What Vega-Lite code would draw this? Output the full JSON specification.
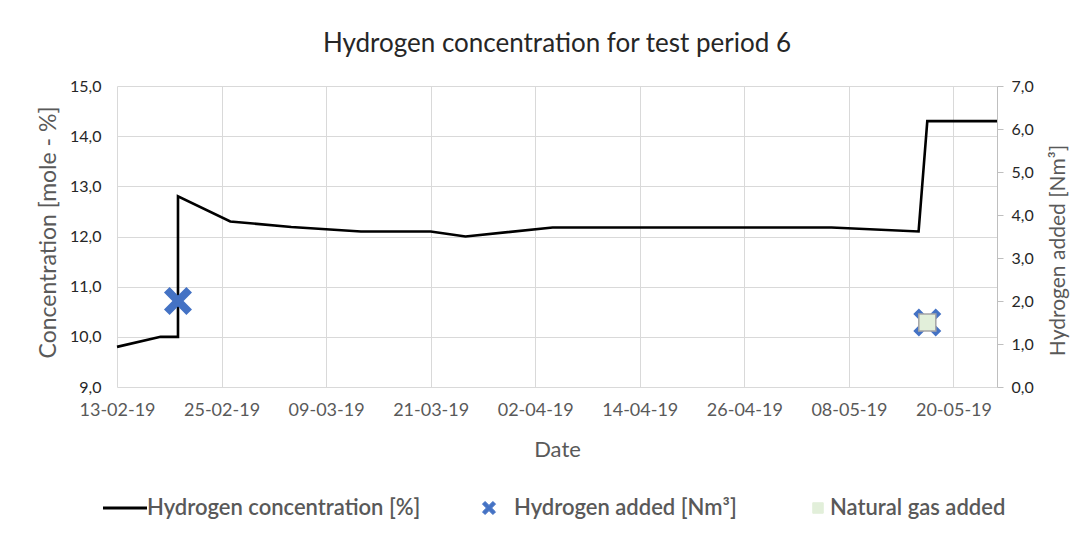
{
  "$schema": "https://vega.github.io/schema/vega-lite/v6.json",
  "width": 880,
  "height": 301,
  "autosize": {"type": "none"},
  "padding": {"left": 117, "top": 86, "right": 87, "bottom": 149},
  "background": "white",
  "config": {
    "locale": {"number": {"decimal": ",", "thousands": ".", "grouping": [3], "currency": ["", " €"]}},
    "view": {"stroke": null},
    "font": "Lato"
  },
  "title": {
    "text": "Hydrogen concentration for test period 6",
    "font": "Lato",
    "fontSize": 26,
    "fontWeight": "normal",
    "color": "#262626",
    "anchor": "middle",
    "offset": 21
  },
  "datasets": {
    "conc": [
      {"seq": 1, "date": "2019-02-13T00:00:00", "value": 9.8, "series": "Hydrogen concentration [%]"},
      {"seq": 2, "date": "2019-02-18T00:00:00", "value": 10.0, "series": "Hydrogen concentration [%]"},
      {"seq": 3, "date": "2019-02-20T00:00:00", "value": 10.0, "series": "Hydrogen concentration [%]"},
      {"seq": 4, "date": "2019-02-20T00:00:00", "value": 12.8, "series": "Hydrogen concentration [%]"},
      {"seq": 5, "date": "2019-02-26T00:00:00", "value": 12.3, "series": "Hydrogen concentration [%]"},
      {"seq": 6, "date": "2019-03-05T00:00:00", "value": 12.19, "series": "Hydrogen concentration [%]"},
      {"seq": 7, "date": "2019-03-13T00:00:00", "value": 12.1, "series": "Hydrogen concentration [%]"},
      {"seq": 8, "date": "2019-03-21T00:00:00", "value": 12.1, "series": "Hydrogen concentration [%]"},
      {"seq": 9, "date": "2019-03-25T00:00:00", "value": 12.0, "series": "Hydrogen concentration [%]"},
      {"seq": 10, "date": "2019-04-04T00:00:00", "value": 12.18, "series": "Hydrogen concentration [%]"},
      {"seq": 11, "date": "2019-05-06T00:00:00", "value": 12.18, "series": "Hydrogen concentration [%]"},
      {"seq": 12, "date": "2019-05-16T00:00:00", "value": 12.1, "series": "Hydrogen concentration [%]"},
      {"seq": 13, "date": "2019-05-17T00:00:00", "value": 14.3, "series": "Hydrogen concentration [%]"},
      {"seq": 14, "date": "2019-05-25T00:00:00", "value": 14.3, "series": "Hydrogen concentration [%]"}
    ],
    "added": [
      {"date": "2019-02-20T00:00:00", "amount": 2.0, "series": "Hydrogen added [Nm³]"},
      {"date": "2019-05-17T00:00:00", "amount": 1.5, "series": "Hydrogen added [Nm³]"},
      {"date": "2019-05-17T00:00:00", "amount": 1.5, "series": "Natural gas added"}
    ]
  },
  "encoding": {
    "x": {
      "field": "date",
      "type": "temporal",
      "title": "Date",
      "scale": {
        "domain": [
          {"year": 2019, "month": 2, "date": 13},
          {"year": 2019, "month": 5, "date": 25}
        ]
      },
      "axis": {
        "values": [
          {"year": 2019, "month": 2, "date": 13},
          {"year": 2019, "month": 2, "date": 25},
          {"year": 2019, "month": 3, "date": 9},
          {"year": 2019, "month": 3, "date": 21},
          {"year": 2019, "month": 4, "date": 2},
          {"year": 2019, "month": 4, "date": 14},
          {"year": 2019, "month": 4, "date": 26},
          {"year": 2019, "month": 5, "date": 8},
          {"year": 2019, "month": 5, "date": 20}
        ],
        "format": "%d-%m-%y",
        "labelFont": "Lato",
        "labelFontSize": 18,
        "labelColor": "#595959",
        "labelPadding": 14,
        "labelFlush": false,
        "labelOverlap": false,
        "ticks": false,
        "domain": false,
        "grid": true,
        "gridColor": "#D9D9D9",
        "gridWidth": 1,
        "titleFont": "Lato",
        "titleFontSize": 22,
        "titleFontWeight": "normal",
        "titleColor": "#595959",
        "titlePadding": 20
      }
    }
  },
  "layer": [
    {
      "data": {"name": "conc"},
      "mark": {"type": "line", "strokeWidth": 2.6, "interpolate": "linear"},
      "encoding": {
        "y": {
          "field": "value",
          "type": "quantitative",
          "title": "Concentration [mole - %]",
          "scale": {"domain": [9, 15], "nice": false, "zero": false},
          "axis": {
            "orient": "left",
            "values": [9, 10, 11, 12, 13, 14, 15],
            "format": ".1f",
            "labelFont": "Lato",
            "labelFontSize": 16,
            "labelColor": "#262626",
            "labelPadding": 16,
            "ticks": false,
            "domain": false,
            "grid": true,
            "gridColor": "#D9D9D9",
            "gridWidth": 1,
            "titleFont": "Lato",
            "titleFontSize": 23,
            "titleFontWeight": "normal",
            "titleColor": "#595959",
            "titlePadding": 9,
            "titleY": 146
          }
        },
        "order": {"field": "seq", "type": "quantitative"},
        "color": {
          "field": "series",
          "type": "nominal",
          "scale": {
            "domain": ["Hydrogen concentration [%]", "Hydrogen added [Nm³]", "Natural gas added"],
            "range": ["#000000", "#4472C4", "#E2EFDA"]
          },
          "legend": {
            "title": null,
            "orient": "none",
            "direction": "horizontal",
            "legendX": -14,
            "legendY": 411,
            "labelOffset": 4,
            "labelLimit": 0,
            "columnPadding": 49,
            "labelFont": "Lato",
            "labelFontSize": 22,
            "labelFontWeight": 600,
            "labelColor": "#595959",
            "encode": {
              "symbols": {
                "update": {
                  "shape": {"signal": "datum.value === 'Hydrogen concentration [%]' ? 'stroke' : datum.value === 'Hydrogen added [Nm³]' ? 'M-1,-0.6L-0.6,-1L0,-0.4L0.6,-1L1,-0.6L0.4,0L1,0.6L0.6,1L0,0.4L-0.6,1L-1,0.6L-0.4,0Z' : 'square'"},
                  "size": {"signal": "datum.value === 'Hydrogen concentration [%]' ? 1936 : datum.value === 'Hydrogen added [Nm³]' ? 170 : 110"},
                  "x": {"signal": "datum.value === 'Hydrogen concentration [%]' ? 22 : datum.value === 'Hydrogen added [Nm³]' ? 19 : 32"},
                  "fill": {"signal": "datum.value === 'Natural gas added' ? '#E2EFDA' : datum.value === 'Hydrogen added [Nm³]' ? '#4472C4' : 'transparent'"},
                  "stroke": {"signal": "datum.value === 'Natural gas added' ? '#A5A5A5' : datum.value === 'Hydrogen added [Nm³]' ? 'transparent' : '#000000'"},
                  "strokeWidth": {"signal": "datum.value === 'Hydrogen concentration [%]' ? 3 : 1"},
                  "opacity": {"value": 1}
                }
              },
              "labels": {
                "update": {
                  "x": {"value": 44}
                }
              }
            }
          }
        }
      }
    },
    {
      "data": {"name": "added"},
      "encoding": {
        "y": {
          "field": "amount",
          "type": "quantitative",
          "title": "Hydrogen added [Nm³]",
          "scale": {"domain": [0, 7], "nice": false},
          "axis": {
            "orient": "right",
            "values": [0, 1, 2, 3, 4, 5, 6, 7],
            "format": ".1f",
            "labelFont": "Lato",
            "labelFontSize": 16,
            "labelColor": "#262626",
            "labelPadding": 8,
            "ticks": true,
            "tickSize": 6,
            "tickColor": "#BFBFBF",
            "domain": true,
            "domainColor": "#BFBFBF",
            "grid": false,
            "titleFont": "Lato",
            "titleFontSize": 21,
            "titleFontWeight": "normal",
            "titleColor": "#595959",
            "titleAngle": 270,
            "titleBaseline": "top",
            "titlePadding": 14,
            "titleY": 164
          }
        },
        "color": {"field": "series", "type": "nominal"}
      },
      "layer": [
        {
          "transform": [{"filter": "datum.series === 'Hydrogen added [Nm³]'"}],
          "mark": {
            "type": "point",
            "filled": true,
            "opacity": 1,
            "shape": "M-1,-0.6L-0.6,-1L0,-0.4L0.6,-1L1,-0.6L0.4,0L1,0.6L0.6,1L0,0.4L-0.6,1L-1,0.6L-0.4,0Z"
          },
          "encoding": {"size": {"value": 784}}
        },
        {
          "transform": [{"filter": "datum.series === 'Natural gas added'"}],
          "mark": {
            "type": "point",
            "filled": true,
            "opacity": 1,
            "shape": "square",
            "stroke": "#A5A5A5",
            "strokeWidth": 1.5
          },
          "encoding": {"size": {"value": 289}}
        }
      ]
    }
  ],
  "resolve": {"scale": {"y": "independent"}}
}
